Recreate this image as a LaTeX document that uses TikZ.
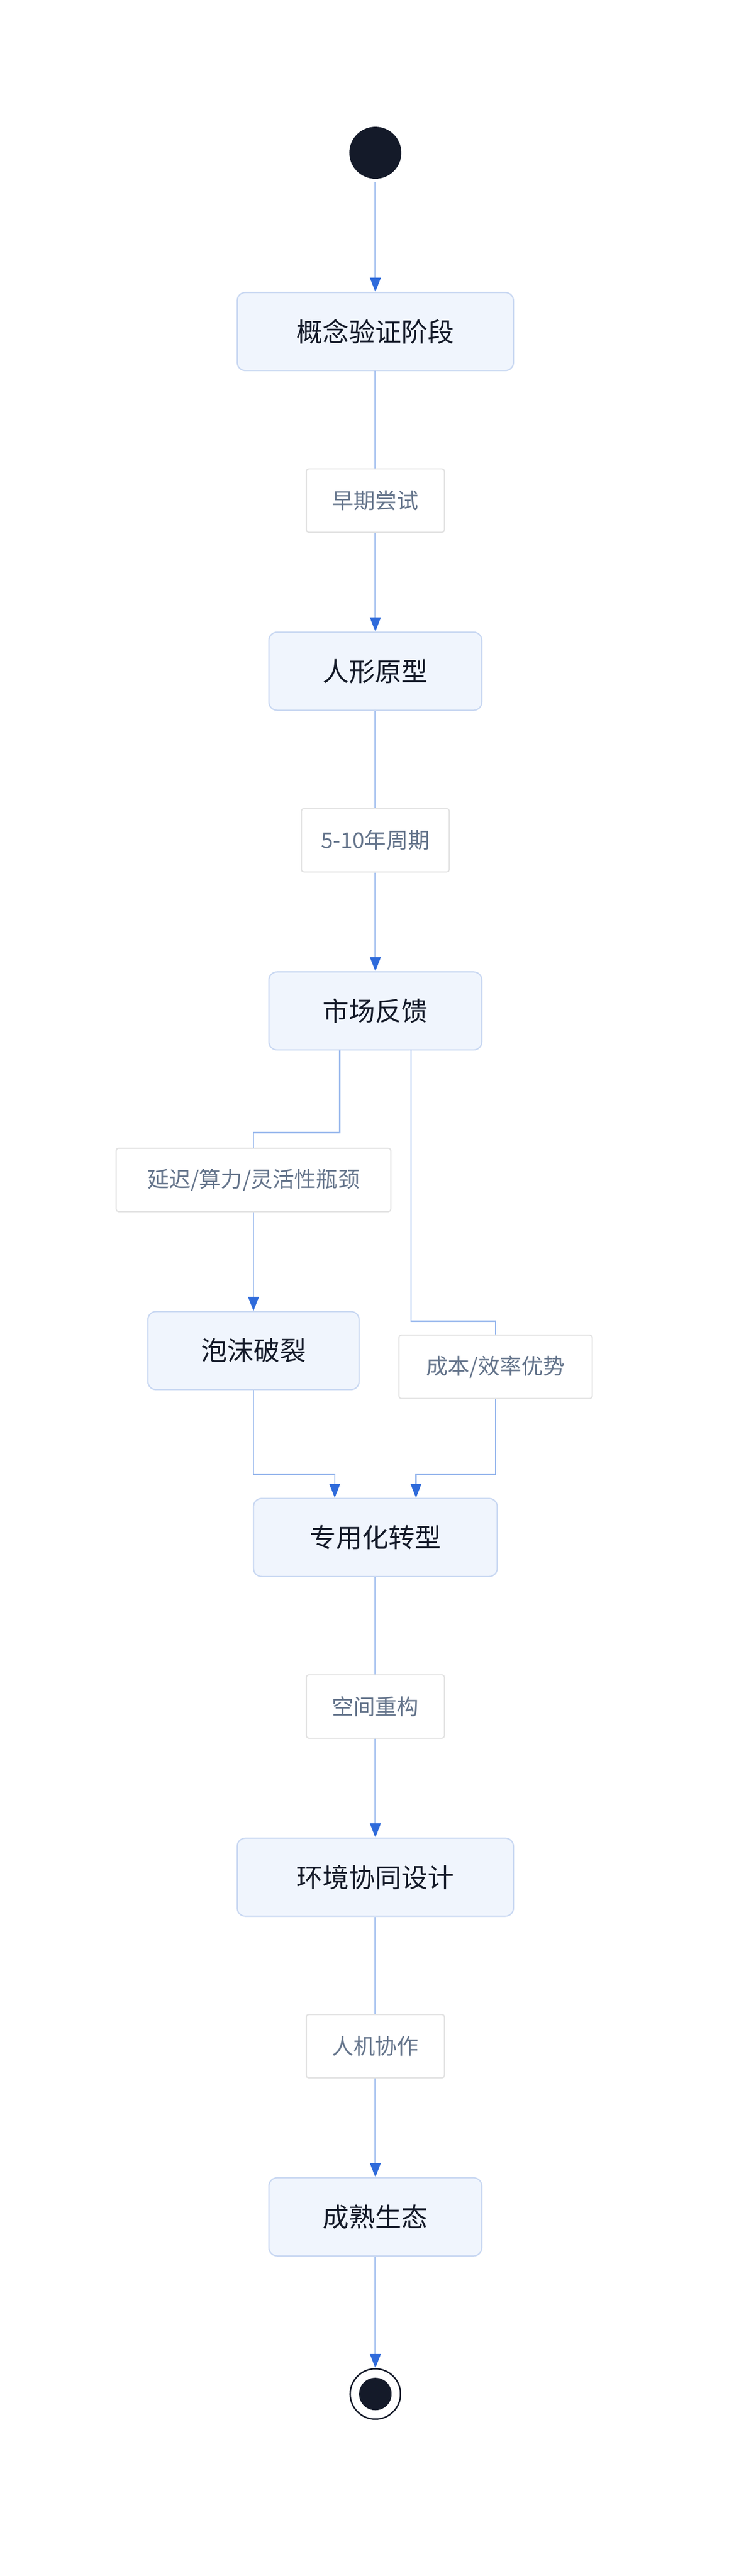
\documentclass[tikz,border=0pt]{standalone}
\usepackage{fontspec}
\setmainfont{Noto Sans CJK SC}
\usetikzlibrary{positioning,arrows.meta}
\definecolor{boxfill}{HTML}{F0F5FD}
\definecolor{boxline}{HTML}{C9D8F2}
\definecolor{edgeline}{HTML}{93B4EC}
\definecolor{tipblue}{HTML}{2F6BDB}
\definecolor{inkdark}{HTML}{141A29}
\definecolor{labgray}{HTML}{64748B}
\definecolor{labline}{HTML}{E2E2E2}

\begin{document}
\begin{tikzpicture}[x=1mm, y=-1mm,
  state/.style={draw=boxline, line width=2.2pt, fill=boxfill, rounded corners=5mm,
    text=inkdark, font=\fontsize{46}{56}\selectfont, minimum height=48mm, inner sep=0pt},
  lab/.style={draw=labline, line width=2pt, fill=white, rounded corners=1.5mm,
    text=labgray, font=\fontsize{38}{46}\selectfont, minimum height=39mm, inner sep=0pt},
  flow/.style={draw=edgeline, line width=2.3pt},
  arr/.style={flow, -{Triangle[color=tipblue, length=8.7mm, width=6.6mm]}}]

\useasboundingbox[fill=white] (0,0) rectangle (462,1585);

% states
\fill[inkdark] (231,94) circle (16mm) coordinate (start);
\node[state, minimum width=170mm] (poc) at (231,204) {概念验证阶段};
\node[state, minimum width=131mm] (proto) at (231,413) {人形原型};
\node[state, minimum width=131mm] (market) at (231,622) {市场反馈};
\node[state, minimum width=130mm] (bubble) at (156,831) {泡沫破裂};
\node[state, minimum width=150mm] (special) at (231,946) {专用化转型};
\node[state, minimum width=170mm] (env) at (231,1155) {环境协同设计};
\node[state, minimum width=131mm] (mature) at (231,1364) {成熟生态};
\node[circle, draw=inkdark, line width=2.5pt, minimum size=31mm, inner sep=0pt] (stop) at (231,1473) {};
\fill[inkdark] (stop.center) circle (10mm);

% labels
\node[lab, minimum width=85mm] (l1) at (231,308) {早期尝试};
\node[lab, minimum width=91mm] (l2) at (231,517) {5-10年周期};
\node[lab, minimum width=169mm] (l3) at (156,726) {延迟/算力/灵活性瓶颈};
\node[lab, minimum width=119mm] (l4) at (305,841) {成本/效率优势};
\node[lab, minimum width=85mm] (l5) at (231,1050) {空间重构};
\node[lab, minimum width=85mm] (l6) at (231,1259) {人机协作};

% connectors
\draw[arr] (231,112) -- (poc);
\draw[flow] (poc) -- (l1);
\draw[arr] (l1) -- (proto);
\draw[flow] (proto) -- (l2);
\draw[arr] (l2) -- (market);
\draw[flow] (market.south -| 209,0) |- (156,697) -- (l3);
\draw[arr] (l3) -- (bubble);
\draw[flow] (market.south -| 253,0) |- (305,813) -- (l4);
\draw[arr] (bubble) |- (206,907) -- (special.north -| 206,0);
\draw[arr] (l4) |- (256,907) -- (special.north -| 256,0);
\draw[flow] (special) -- (l5);
\draw[arr] (l5) -- (env);
\draw[flow] (env) -- (l6);
\draw[arr] (l6) -- (mature);
\draw[arr] (mature) -- (stop);

\end{tikzpicture}
\end{document}
